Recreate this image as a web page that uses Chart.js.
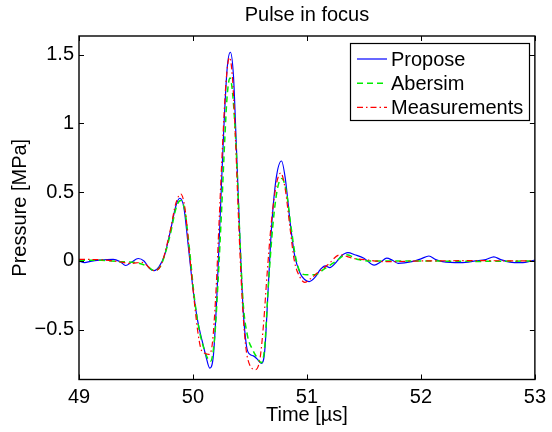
<!DOCTYPE html>
<html>
<head>
<meta charset="utf-8">
<script src="https://cdn.jsdelivr.net/npm/chart.js@4/dist/chart.umd.min.js"></script>
<style>
html,body{margin:0;padding:0;background:#fff;}
canvas{display:block;}
</style>
</head>
<body>
<canvas id="c" width="552" height="432"></canvas>
<script>
// ---- data ----
const proposeT = [49.00,49.05,49.10,49.18,49.30,49.36,49.41,49.46,49.52,49.57,49.62,49.66,49.70,49.75,49.80,49.85,49.884,49.92,49.96,50.00,50.04,50.08,50.11,50.148,50.18,50.21,50.24,50.27,50.30,50.328,50.355,50.38,50.41,50.44,50.47,50.50,50.53,50.56,50.60,50.63,50.66,50.69,50.73,50.777,50.81,50.85,50.89,50.94,50.98,51.02,51.07,51.12,51.16,51.20,51.25,51.30,51.36,51.42,51.50,51.59,51.65,51.70,51.75,51.80,51.92,52.00,52.07,52.13,52.19,52.35,52.48,52.57,52.64,52.70,52.78,52.88,53.00];
const proposeV = [0.000,-0.012,-0.003,0.006,0.012,-0.005,-0.033,-0.010,0.018,0.000,-0.055,-0.070,-0.045,0.040,0.210,0.400,0.456,0.390,0.100,-0.200,-0.430,-0.580,-0.680,-0.780,-0.680,-0.250,0.350,0.950,1.400,1.518,1.350,0.850,0.200,-0.350,-0.620,-0.680,-0.690,-0.710,-0.745,-0.650,-0.200,0.250,0.600,0.727,0.600,0.300,0.050,-0.090,-0.135,-0.150,-0.120,-0.060,-0.035,-0.048,-0.015,0.035,0.060,0.045,0.020,-0.030,-0.005,0.020,0.005,-0.017,-0.005,0.015,0.036,0.010,-0.005,-0.012,0.000,0.010,0.030,0.010,-0.008,-0.012,0.007];

const abersimT = [49.00,49.20,49.35,49.50,49.60,49.66,49.72,49.80,49.85,49.89,49.93,49.97,50.01,50.05,50.09,50.154,50.19,50.22,50.25,50.28,50.30,50.325,50.35,50.38,50.41,50.44,50.48,50.52,50.56,50.60,50.63,50.66,50.70,50.74,50.78,50.82,50.86,50.90,50.95,51.00,51.07,51.15,51.25,51.35,51.45,51.60,52.00,52.50,53.00];
const abersimV = [0.005,0.005,-0.005,-0.012,-0.040,-0.070,-0.030,0.190,0.380,0.440,0.360,0.080,-0.250,-0.480,-0.620,-0.730,-0.560,-0.150,0.350,0.900,1.200,1.330,1.200,0.800,0.200,-0.300,-0.550,-0.640,-0.700,-0.740,-0.620,-0.200,0.250,0.520,0.600,0.500,0.250,0.030,-0.090,-0.100,-0.100,-0.060,-0.005,0.045,0.010,0.000,0.000,-0.003,0.000];

const measT = [49.00,49.20,49.35,49.45,49.55,49.66,49.72,49.80,49.85,49.893,49.93,49.97,50.00,50.04,50.07,50.10,50.14,50.17,50.20,50.23,50.26,50.29,50.32,50.345,50.37,50.40,50.43,50.46,50.50,50.55,50.59,50.62,50.65,50.69,50.73,50.77,50.81,50.85,50.89,50.94,50.98,51.03,51.10,51.18,51.29,51.40,51.50,51.70,52.00,52.50,53.00];
const measV = [0.012,0.008,-0.005,-0.018,-0.010,-0.070,-0.030,0.220,0.420,0.487,0.380,0.050,-0.200,-0.500,-0.640,-0.670,-0.680,-0.600,-0.250,0.300,0.850,1.300,1.480,1.350,0.950,0.300,-0.250,-0.600,-0.760,-0.790,-0.700,-0.450,-0.100,0.300,0.550,0.640,0.520,0.250,0.000,-0.120,-0.155,-0.130,-0.080,-0.030,0.045,0.020,0.010,-0.005,0.000,0.002,0.000];

const seriesNames = ["Propose","Abersim","Measurements"];
const xTicks = [49,50,51,52,53];
const yTicks = [-0.5,0,0.5,1,1.5];
const titleText = "Pulse in focus";
const xLabel = "Time [\u00b5s]";
const yLabel = "Pressure [MPa]";

const toPts = (t,v) => t.map((x,i)=>({x:x,y:v[i]}));
const FONT = "'Liberation Sans', Arial, Helvetica, sans-serif";

const boxPlugin = {
  id:'boxPlugin',
  afterDatasetsDraw(chart){
    const {ctx, chartArea:a, scales} = chart;
    ctx.save();
    ctx.strokeStyle = '#000';
    ctx.lineWidth = 1;
    const tl = 5;
    ctx.beginPath();
    xTicks.forEach(v=>{
      const px = Math.round(scales.x.getPixelForValue(v))+0.5;
      ctx.moveTo(px,a.bottom); ctx.lineTo(px,a.bottom-tl);
      ctx.moveTo(px,a.top); ctx.lineTo(px,a.top+tl);
    });
    yTicks.forEach(v=>{
      const py = Math.round(scales.y.getPixelForValue(v))+0.5;
      ctx.moveTo(a.left,py); ctx.lineTo(a.left+tl,py);
      ctx.moveTo(a.right,py); ctx.lineTo(a.right-tl,py);
    });
    ctx.stroke();
    ctx.lineWidth = 1.4;
    ctx.strokeRect(a.left, a.top, a.right-a.left, a.bottom-a.top);
    ctx.restore();
  },
  afterDraw(chart){
    const {ctx} = chart;
    const bx=350, by=43, bw=179, bh=77;
    ctx.save();
    ctx.fillStyle='#fff';
    ctx.fillRect(bx,by,bw,bh);
    ctx.strokeStyle='#000';
    ctx.lineWidth=1.2;
    ctx.strokeRect(bx+0.5,by+0.5,bw,bh);
    ctx.font = "20px " + FONT;
    ctx.textBaseline='middle';
    ctx.fillStyle='#000';
    chart.data.datasets.forEach((ds,i)=>{
      const y = 59 + i*24.2;
      ctx.beginPath();
      ctx.strokeStyle = ds.borderColor;
      ctx.lineWidth = ds.borderWidth;
      ctx.setLineDash(ds.borderDash||[]);
      ctx.moveTo(357,y); ctx.lineTo(387,y);
      ctx.stroke();
      ctx.setLineDash([]);
      ctx.fillText(ds.label, 391, y+1);
    });
    ctx.restore();
  }
};

new Chart(document.getElementById('c'), {
  type:'line',
  data:{
    datasets:[
      {label:seriesNames[0], data:toPts(proposeT,proposeV), borderColor:'#0000ff', borderWidth:1.2, order:3},
      {label:seriesNames[1], data:toPts(abersimT,abersimV), borderColor:'#00ee00', borderWidth:1.5, borderDash:[6,4], order:2},
      {label:seriesNames[2], data:toPts(measT,measV), borderColor:'#ff0000', borderWidth:1.2, borderDash:[6,3,1.5,3], order:1}
    ]
  },
  options:{
    responsive:false,
    animation:false,
    devicePixelRatio:1,
    layout:{padding:{left:0,right:13,top:0,bottom:0}},
    elements:{point:{radius:0}, line:{cubicInterpolationMode:'monotone', fill:false}},
    plugins:{
      legend:{display:false},
      tooltip:{enabled:false},
      title:{display:true, fullSize:false, text:titleText, color:'#000', font:{family:FONT, size:20, weight:'normal', lineHeight:1.2}, padding:{top:3,bottom:9}}
    },
    scales:{
      x:{
        type:'linear', min:49, max:53,
        afterBuildTicks(s){ s.ticks = xTicks.map(v=>({value:v})); },
        afterFit(s){ s.height = 52.5; },
        grid:{display:false, drawTicks:false},
        border:{display:false},
        ticks:{color:'#000', font:{family:FONT,size:20}, padding:6, maxRotation:0, callback:v=>String(v)},
        title:{display:true, text:xLabel, color:'#000', font:{family:FONT,size:20,lineHeight:1.2}, padding:{top:0,bottom:5}}
      },
      y:{
        type:'linear', min:-0.862, max:1.636,
        afterBuildTicks(s){ s.ticks = yTicks.map(v=>({value:v})); },
        afterFit(s){ s.width = 79; },
        grid:{display:false, drawTicks:false},
        border:{display:false},
        ticks:{color:'#000', font:{family:FONT,size:20}, padding:5, callback:v=>(v<0?'\u2212':'')+String(Math.abs(v))},
        title:{display:true, text:yLabel, color:'#000', font:{family:FONT,size:20,lineHeight:1.2}, padding:{top:8,bottom:0}}
      }
    }
  },
  plugins:[boxPlugin]
});
</script>
</body>
</html>
